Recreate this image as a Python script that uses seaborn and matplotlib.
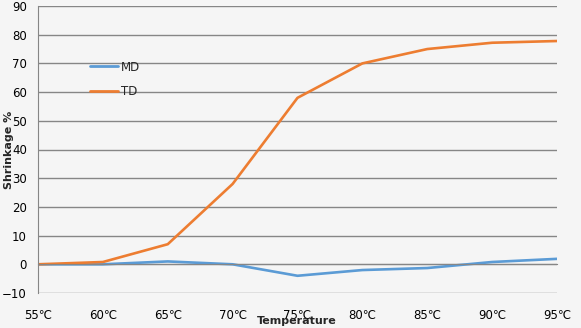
import matplotlib
matplotlib.use("Agg")
import matplotlib.pyplot as plt
import seaborn as sns
import pandas as pd

temperatures = ["55℃", "60℃", "65℃", "70℃", "75℃", "80℃", "85℃", "90℃", "95℃"]
md_values = [0, 0, 1, 0, -4, -2, -1.3, 0.8, 1.9]
td_values = [0, 0.8, 7, 28, 58, 70, 75, 77.2, 77.8]
series_names = ["MD", "TD"]
y_ticks = [-10, 0, 10, 20, 30, 40, 50, 60, 70, 80, 90]

colors = {"MD": "#5b9bd5", "TD": "#ed7d31"}
grid_color = "#868686"
bg = "#f5f5f5"

df = pd.DataFrame({
    "pos": list(range(len(temperatures))) * 2,
    "value": md_values + td_values,
    "series": [series_names[0]] * len(md_values) + [series_names[1]] * len(td_values),
})

sns.set_style("white")
plt.rcParams["font.family"] = ["DejaVu Sans"]

fig = plt.figure(figsize=(5.81, 3.28), dpi=100, facecolor=bg)
ax = fig.add_axes([38 / 581, 1 - 293 / 328, (557 - 38) / 581, (293 - 6) / 328])
ax.set_facecolor(bg)

sns.lineplot(data=df, x="pos", y="value", hue="series", palette=colors,
             linewidth=1.9, ax=ax, legend=True)

ax.set_xlim(0, len(temperatures) - 1)
ax.set_ylim(-10, 90)
ax.set_yticks(y_ticks)
ax.yaxis.grid(True, color=grid_color, linewidth=1)
ax.set_axisbelow(True)

ax.set_xticks(range(len(temperatures)))
ax.set_xticklabels(temperatures)
for s in ["top", "right"]:
    ax.spines[s].set_visible(False)
ax.spines["left"].set_color(grid_color)
ax.spines["bottom"].set_color(grid_color)
ax.spines["bottom"].set_position(("data", 0))
ax.tick_params(axis="x", direction="out", length=5, color=grid_color,
               pad=27, labelsize=8.5, labelcolor="#000000")
ax.tick_params(axis="y", direction="out", length=6, color=grid_color,
               labelsize=8.5, labelcolor="#000000", pad=2)

ax.set_xlabel("")
ax.set_ylabel("")
fig.text(297 / 581, 1 - 321 / 328, "Temperature", ha="center", va="center",
         fontsize=8, fontweight="bold")
fig.text(9 / 581, 1 - 150 / 328, "Shrinkage %", ha="center", va="center",
         rotation=90, fontsize=8, fontweight="bold")

leg = ax.legend(loc="upper left", bbox_to_anchor=(0.08, 0.847), frameon=False,
                fontsize=8.5, handlelength=2.4, labelspacing=0.95, handletextpad=0.2)
for line in leg.get_lines():
    line.set_linewidth(2)

fig.savefig("out.png", dpi=100, facecolor=bg)
